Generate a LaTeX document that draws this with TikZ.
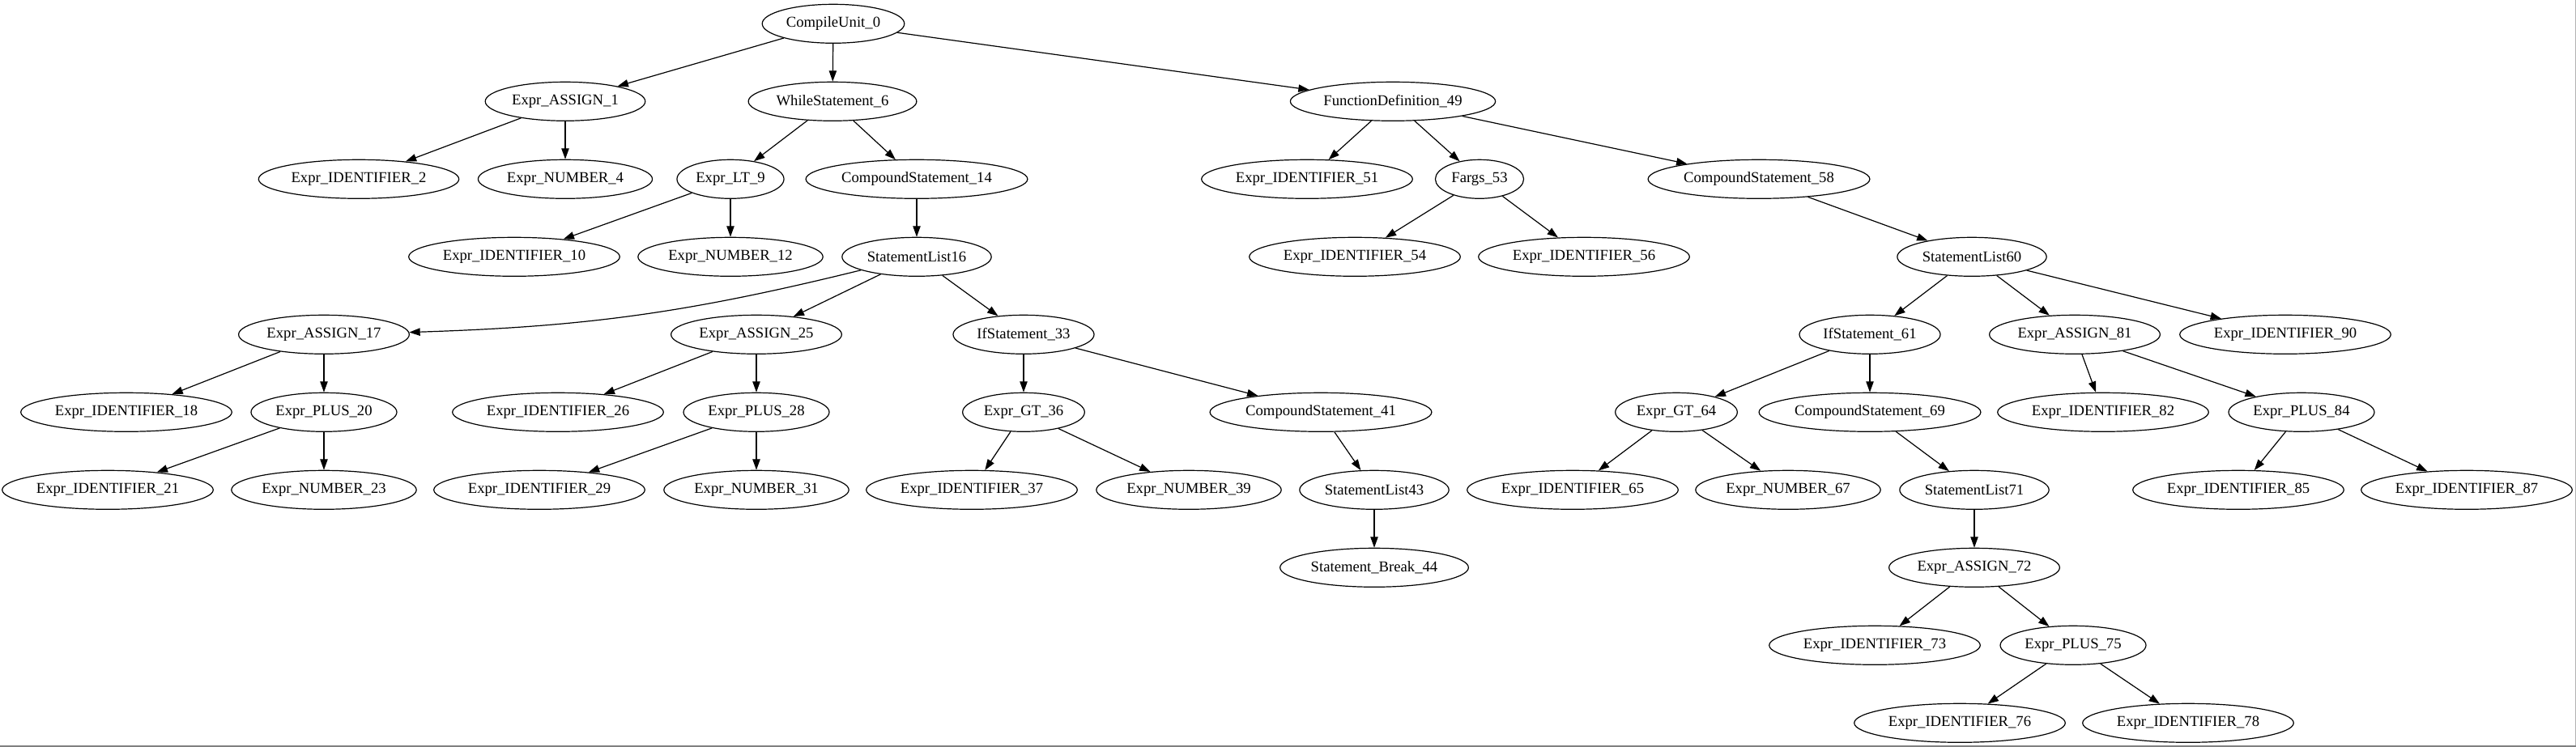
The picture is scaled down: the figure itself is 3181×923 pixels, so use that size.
\documentclass[tikz,border=0pt]{standalone}
\usepackage{fontspec}
\setmainfont{Liberation Serif}
\usetikzlibrary{shapes.geometric,arrows.meta}

\begin{document}
\begin{tikzpicture}[x=0.75pt, y=0.75pt,
    ast/.style={ellipse, draw, line width=0.9pt, inner xsep=3pt, inner ysep=2pt,
                minimum height=36pt, minimum width=54pt,
                font=\fontsize{14pt}{16pt}\selectfont},
    edge/.style={line width=0.9pt, -{Triangle[length=10pt,width=7pt]}}]

        \useasboundingbox (0,-923) rectangle (3181,0);
        \fill[white] (0,-923) rectangle (3181,0);

        % Rank 0
        \node[ast] (n-0) at (1029,-29.3) {CompileUnit\_0};

        % Rank 1
        \node[ast] (n-1) at (698,-125.3) {Expr\_ASSIGN\_1};
        \node[ast] (n-6) at (1028,-125.3) {WhileStatement\_6};
        \node[ast] (n-49) at (1720,-125.3) {FunctionDefinition\_49};

        % Rank 2
        \node[ast] (n-2) at (443,-221.3) {Expr\_IDENTIFIER\_2};
        \node[ast] (n-4) at (698,-221.3) {Expr\_NUMBER\_4};
        \node[ast] (n-9) at (902,-221.3) {Expr\_LT\_9};
        \node[ast] (n-14) at (1132,-221.3) {CompoundStatement\_14};
        \node[ast] (n-51) at (1614,-221.3) {Expr\_IDENTIFIER\_51};
        \node[ast] (n-53) at (1827,-221.3) {Fargs\_53};
        \node[ast] (n-58) at (2172,-221.3) {CompoundStatement\_58};

        % Rank 3
        \node[ast] (n-10) at (635,-317.3) {Expr\_IDENTIFIER\_10};
        \node[ast] (n-12) at (902,-317.3) {Expr\_NUMBER\_12};
        \node[ast] (n-16) at (1132,-317.3) {StatementList16};
        \node[ast] (n-54) at (1673,-317.3) {Expr\_IDENTIFIER\_54};
        \node[ast] (n-56) at (1956,-317.3) {Expr\_IDENTIFIER\_56};
        \node[ast] (n-60) at (2435,-317.3) {StatementList60};

        % Rank 4
        \node[ast] (n-17) at (400,-413.3) {Expr\_ASSIGN\_17};
        \node[ast] (n-25) at (934,-413.3) {Expr\_ASSIGN\_25};
        \node[ast] (n-33) at (1264,-413.3) {IfStatement\_33};
        \node[ast] (n-61) at (2309,-413.3) {IfStatement\_61};
        \node[ast] (n-81) at (2562,-413.3) {Expr\_ASSIGN\_81};
        \node[ast] (n-90) at (2822,-413.3) {Expr\_IDENTIFIER\_90};

        % Rank 5
        \node[ast] (n-18) at (156,-509.3) {Expr\_IDENTIFIER\_18};
        \node[ast] (n-20) at (400,-509.3) {Expr\_PLUS\_20};
        \node[ast] (n-26) at (689,-509.3) {Expr\_IDENTIFIER\_26};
        \node[ast] (n-28) at (934,-509.3) {Expr\_PLUS\_28};
        \node[ast] (n-36) at (1264,-509.3) {Expr\_GT\_36};
        \node[ast] (n-41) at (1631,-509.3) {CompoundStatement\_41};
        \node[ast] (n-64) at (2070,-509.3) {Expr\_GT\_64};
        \node[ast] (n-69) at (2309,-509.3) {CompoundStatement\_69};
        \node[ast] (n-82) at (2597,-509.3) {Expr\_IDENTIFIER\_82};
        \node[ast] (n-84) at (2842,-509.3) {Expr\_PLUS\_84};

        % Rank 6
        \node[ast] (n-21) at (133,-605.3) {Expr\_IDENTIFIER\_21};
        \node[ast] (n-23) at (400,-605.3) {Expr\_NUMBER\_23};
        \node[ast] (n-29) at (666,-605.3) {Expr\_IDENTIFIER\_29};
        \node[ast] (n-31) at (934,-605.3) {Expr\_NUMBER\_31};
        \node[ast] (n-37) at (1200,-605.3) {Expr\_IDENTIFIER\_37};
        \node[ast] (n-39) at (1468,-605.3) {Expr\_NUMBER\_39};
        \node[ast] (n-43) at (1697,-605.3) {StatementList43};
        \node[ast] (n-65) at (1942,-605.3) {Expr\_IDENTIFIER\_65};
        \node[ast] (n-67) at (2208,-605.3) {Expr\_NUMBER\_67};
        \node[ast] (n-71) at (2438,-605.3) {StatementList71};
        \node[ast] (n-85) at (2764,-605.3) {Expr\_IDENTIFIER\_85};
        \node[ast] (n-87) at (3046,-605.3) {Expr\_IDENTIFIER\_87};

        % Rank 7
        \node[ast] (n-44) at (1697,-701.3) {Statement\_Break\_44};
        \node[ast] (n-72) at (2438,-701.3) {Expr\_ASSIGN\_72};

        % Rank 8
        \node[ast] (n-73) at (2315,-797.3) {Expr\_IDENTIFIER\_73};
        \node[ast] (n-75) at (2560,-797.3) {Expr\_PLUS\_75};

        % Rank 9
        \node[ast] (n-76) at (2420,-893.3) {Expr\_IDENTIFIER\_76};
        \node[ast] (n-78) at (2702,-893.3) {Expr\_IDENTIFIER\_78};

        % Parent to child edges
        \foreach \a/\b in {0/1, 0/6, 0/49, 1/2, 1/4, 6/9, 6/14, 9/10, 9/12,
                14/16, 16/25, 16/33, 17/18, 17/20, 20/21, 20/23, 25/26, 25/28,
                28/29, 28/31, 33/36, 33/41, 36/37, 36/39, 41/43, 43/44,
                49/51, 49/53, 49/58, 53/54, 53/56, 58/60, 60/61, 60/81, 60/90,
                61/64, 61/69, 64/65, 64/67, 69/71, 71/72, 72/73, 72/75,
                75/76, 75/78, 81/82, 81/84, 84/85, 84/87}
            \draw[edge] (n-\a) -- (n-\b);

        % The long one bends a little
        \draw[edge] (n-16) to[bend left=6] (n-17);

        % Frame on the right and bottom
        \draw[gray!60, line width=0.75pt] (3180.5,0) -- (3180.5,-923);
        \draw[gray, line width=1.2pt] (0,-922) -- (3181,-922);

    \end{tikzpicture}
\end{document}
